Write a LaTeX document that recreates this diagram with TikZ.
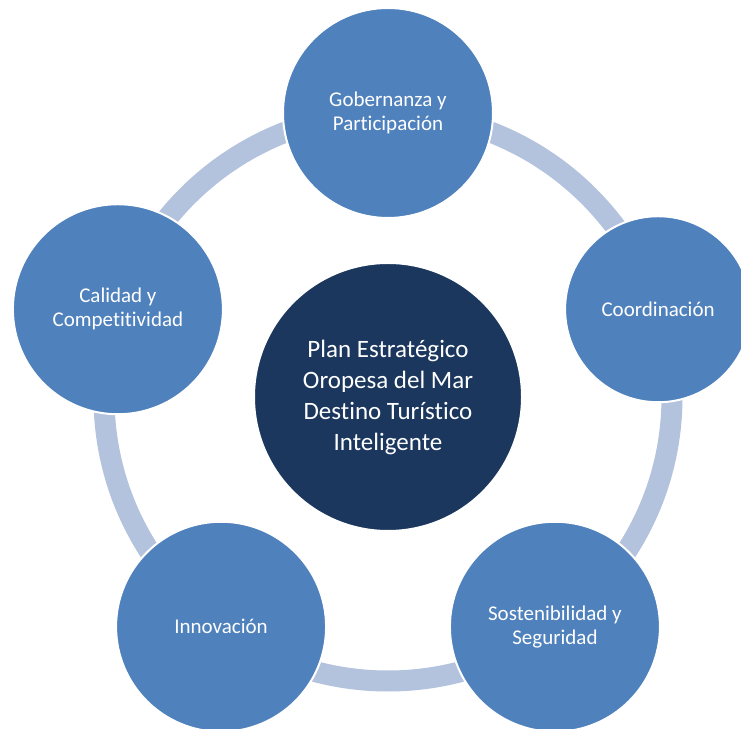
\documentclass[tikz,border=0pt]{standalone}
\usepackage{fontspec}
\setmainfont{Carlito}[Ligatures={NoCommon,NoContextual}]
\usepackage{tikz}
\usetikzlibrary{calc, positioning}
\definecolor{itemblue}{HTML}{4F81BD}
\definecolor{coreblue}{HTML}{1B375E}
\definecolor{ringblue}{HTML}{B3C2DD}

\begin{document}
\begin{tikzpicture}[
  x=1pt, y=1pt,
  ring/.style={draw=ringblue, line width=21pt},
  item/.style={circle, fill=itemblue, draw=white, line width=2pt,
               inner sep=0pt, align=center, text=white,
               font=\fontsize{21}{24}\selectfont},
  core/.style={circle, fill=coreblue, draw=white, line width=2pt,
               minimum size=268pt, inner sep=0pt, align=center, text=white,
               font=\fontsize{25}{31}\selectfont}
]
  \useasboundingbox (0,0) rectangle (741,728);
  \coordinate (mid) at (388,331);

  % ring behind the five topics
  \draw[ring] (mid) circle[radius=284];

  \node[core] (plan) at (mid) {Plan Estratégico\\Oropesa del Mar\\Destino Turístico\\Inteligente};

  \node[item, minimum size=210pt] (gob)   at ($(mid)+(90:284)$)   {Gobernanza y\\Participación};
  \node[item, minimum size=186pt] (coord) at ($(mid)+(18:284)$)   {Coordinación};
  \node[item, minimum size=210pt] (sost)  at ($(mid)+(-54:284)$)  {Sostenibilidad y\\Seguridad};
  \node[item, minimum size=210pt] (innov) at ($(mid)+(-126:284)$) {Innovación};
  \node[item, minimum size=210pt] (cal)   at ($(mid)+(162:284)$)  {Calidad y\\Competitividad};
\end{tikzpicture}
\end{document}
